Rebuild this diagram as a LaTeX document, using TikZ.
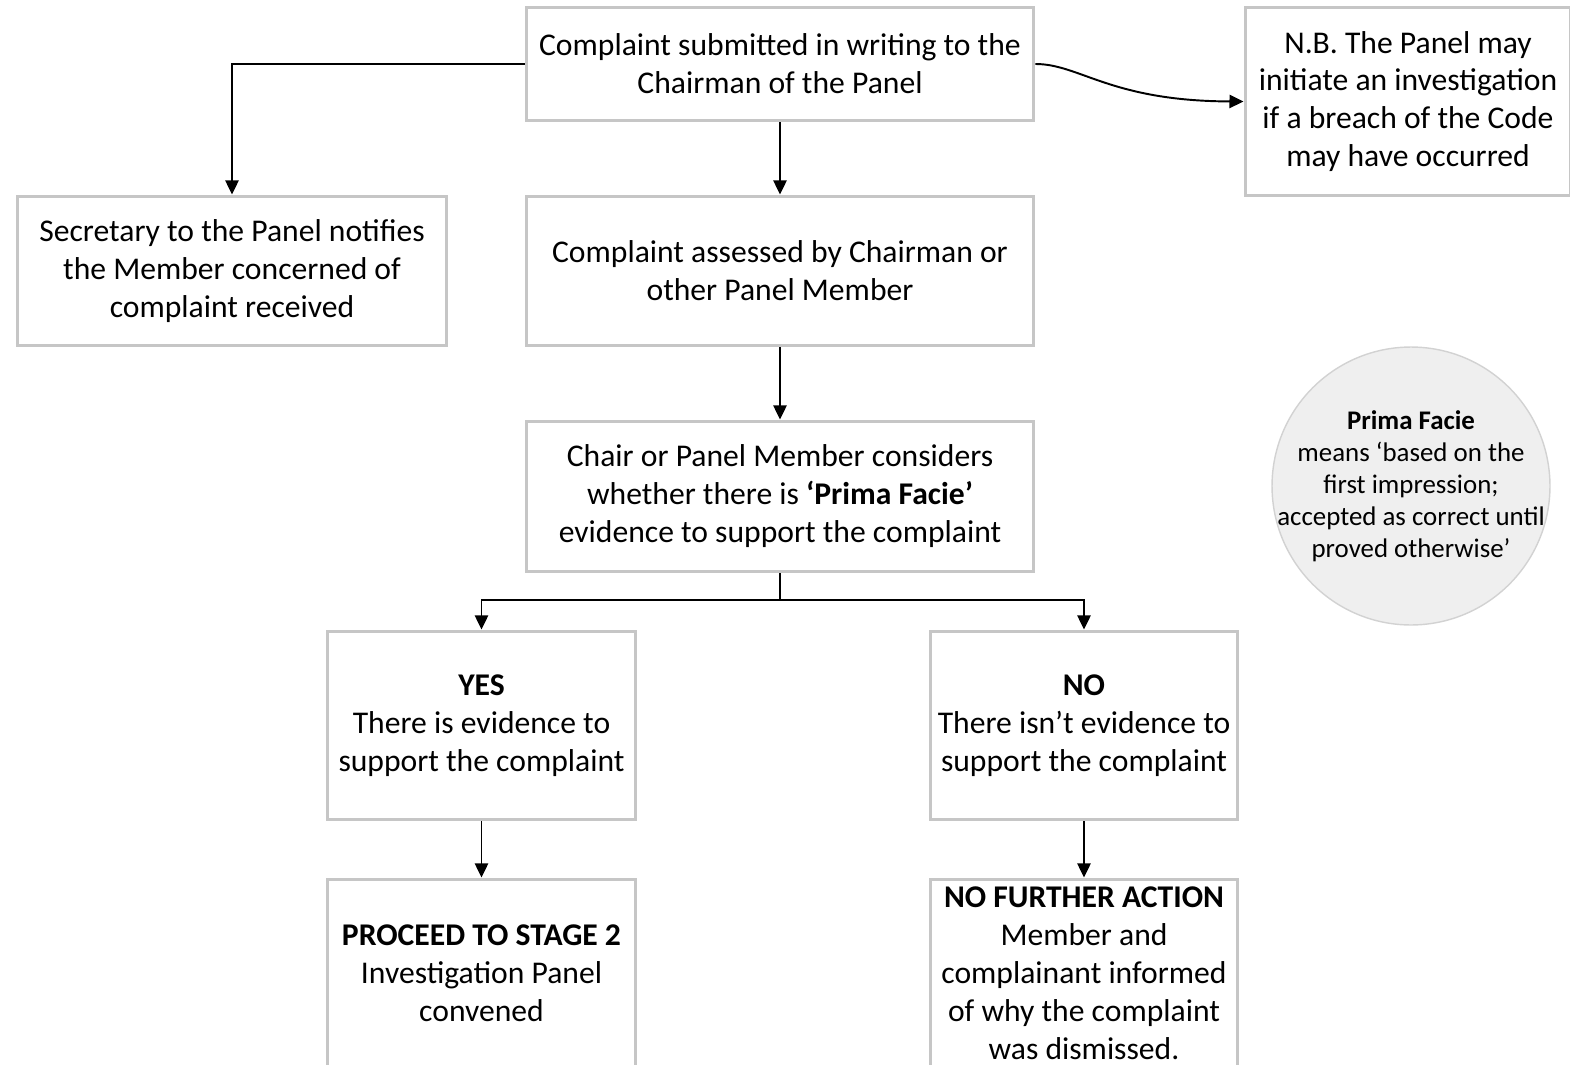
\documentclass[tikz,border=0pt]{standalone}
\usepackage{fontspec}
\setmainfont{Carlito}
\usetikzlibrary{arrows.meta}
\definecolor{boxgray}{HTML}{C6C6C6}
\definecolor{notefill}{HTML}{EFEFEF}
\definecolor{notedraw}{HTML}{D2D2D2}

\begin{document}
\begin{tikzpicture}[x=0.02cm, y=-0.02cm,
	box/.style={draw=boxgray, line width=1.7pt, fill=white, align=center, inner sep=0pt, font=\fontsize{18}{21.6}\selectfont},
	arr/.style={line width=1.1pt, -{Triangle[length=8pt, width=7.5pt]}}]
	\useasboundingbox (0,0) rectangle (1570,1065);
	\node[box, minimum width=10.16cm, minimum height=2.28cm] (complaint) at (780,64) {Complaint submitted in writing to the\\Chairman of the Panel};
	\node[box, minimum width=6.52cm, minimum height=3.78cm] (nb) at (1408,101.5) {N.B. The Panel may\\initiate an investigation\\if a breach of the Code\\may have occurred};
	\node[box, minimum width=8.6cm, minimum height=3cm] (secretary) at (232,271) {Secretary to the Panel notifies\\the Member concerned of\\complaint received};
	\node[box, minimum width=10.16cm, minimum height=3cm] (assessed) at (780,271) {Complaint assessed by Chairman or\\other Panel Member};
	\node[box, minimum width=10.16cm, minimum height=3.02cm] (chair) at (780,496.5) {Chair or Panel Member considers\\whether there is \textbf{‘Prima Facie’}\\evidence to support the complaint};
	\node[box, minimum width=6.18cm, minimum height=3.78cm] (yes) at (481.5,725.5) {\textbf{YES}\\There is evidence to\\support the complaint};
	\node[box, minimum width=6.16cm, minimum height=3.78cm] (no) at (1084,725.5) {\textbf{NO}\\There isn’t evidence to\\support the complaint};
	\node[box, minimum width=6.18cm, minimum height=3.78cm] (proceed) at (481.5,973.5) {\textbf{PROCEED TO STAGE 2}\\Investigation Panel\\convened};
	\node[box, minimum width=6.16cm, minimum height=3.78cm] (nfa) at (1084,973.5) {\textbf{NO FURTHER ACTION}\\Member and\\complainant informed\\of why the complaint\\was dismissed.};
	\node[circle, draw=notedraw, line width=0.8pt, fill=notefill, minimum size=5.56cm, inner sep=-10pt, align=center, font=\fontsize{15.3}{18.2}\selectfont] (primafacie) at (1411,486) {\textbf{Prima Facie}\\means ‘based on the\\first impression;\\accepted as correct until\\proved otherwise’};
	\coordinate (split) at (780,600);
	\draw[arr] (complaint.west) -| (secretary.north);
	\draw[arr] (complaint.south) -- (assessed.north);
	\draw[arr] (complaint.east) .. controls (1080,64) and (1110,101) .. (nb.west);
	\draw[arr] (assessed.south) -- (chair.north);
	\draw[line width=1.1pt] (chair.south) -- (split);
	\draw[arr] (split) -| (yes.north);
	\draw[arr] (split) -| (no.north);
	\draw[arr] (yes.south) -- (proceed.north);
	\draw[arr] (no.south) -- (nfa.north);
\end{tikzpicture}
\end{document}
